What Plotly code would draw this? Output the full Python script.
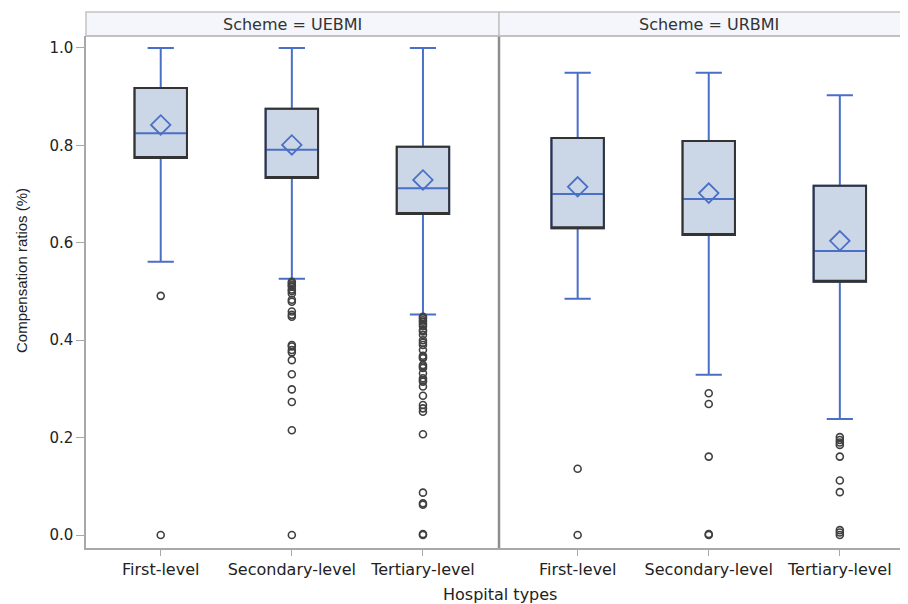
import plotly.graph_objects as go
from plotly.subplots import make_subplots

categories = ["First-level", "Secondary-level", "Tertiary-level"]
schemes = ["UEBMI", "URBMI"]

# box statistics per scheme: [First, Secondary, Tertiary]
uebmi_lower = [0.561, 0.526, 0.453]
uebmi_q1 = [0.774, 0.733, 0.659]
uebmi_median = [0.825, 0.791, 0.712]
uebmi_q3 = [0.918, 0.875, 0.797]
uebmi_upper = [1.0, 1.0, 1.0]
uebmi_mean = [0.842, 0.801, 0.729]

urbmi_lower = [0.485, 0.329, 0.238]
urbmi_q1 = [0.630, 0.616, 0.520]
urbmi_median = [0.700, 0.690, 0.583]
urbmi_q3 = [0.815, 0.809, 0.717]
urbmi_upper = [0.949, 0.949, 0.903]
urbmi_mean = [0.715, 0.702, 0.604]

uebmi_outliers_first = [0.491, 0.0]
uebmi_outliers_secondary = [0.520, 0.517, 0.513, 0.510, 0.504, 0.501, 0.496, 0.483, 0.479,
                            0.459, 0.452, 0.448, 0.390, 0.387, 0.380, 0.375, 0.359, 0.330,
                            0.299, 0.273, 0.215, 0.0]
uebmi_outliers_tertiary = [0.448, 0.445, 0.441, 0.438, 0.433, 0.429, 0.421, 0.418, 0.411,
                           0.400, 0.395, 0.390, 0.380, 0.368, 0.365, 0.363, 0.349, 0.346,
                           0.343, 0.332, 0.322, 0.318, 0.315, 0.305, 0.286, 0.267, 0.260,
                           0.253, 0.207, 0.087, 0.065, 0.062, 0.002, 0.0]
urbmi_outliers_first = [0.136, 0.0]
urbmi_outliers_secondary = [0.291, 0.269, 0.161, 0.002, 0.0]
urbmi_outliers_tertiary = [0.201, 0.195, 0.190, 0.185, 0.161, 0.112, 0.088, 0.010, 0.005, 0.0]

y_ticks = [0.0, 0.2, 0.4, 0.6, 0.8, 1.0]

stats = {
    "UEBMI": dict(lower=uebmi_lower, q1=uebmi_q1, median=uebmi_median, q3=uebmi_q3,
                  upper=uebmi_upper, mean=uebmi_mean,
                  outliers=[uebmi_outliers_first, uebmi_outliers_secondary, uebmi_outliers_tertiary]),
    "URBMI": dict(lower=urbmi_lower, q1=urbmi_q1, median=urbmi_median, q3=urbmi_q3,
                  upper=urbmi_upper, mean=urbmi_mean,
                  outliers=[urbmi_outliers_first, urbmi_outliers_secondary, urbmi_outliers_tertiary]),
}

BLUE = "#4A6FC6"
FILL = "#CBD6E6"
DARK = "#333333"
AXIS = "#A8A8A8"
FONT = "DejaVu Sans"

fig = make_subplots(rows=1, cols=2, shared_yaxes=True, horizontal_spacing=0)

for c, scheme in enumerate(schemes, start=1):
    s = stats[scheme]
    for i, cat in enumerate(categories):
        # whiskers, fill and median in blue
        fig.add_trace(go.Box(
            x=[i], q1=[s["q1"][i]], median=[s["median"][i]], q3=[s["q3"][i]],
            lowerfence=[s["lower"][i]], upperfence=[s["upper"][i]],
            width=0.4, whiskerwidth=0.5, fillcolor=FILL,
            line=dict(color=BLUE, width=2), boxpoints=False, showlegend=False,
            hoverinfo="skip"), row=1, col=c)
        # dark box outline
        fig.add_trace(go.Box(
            x=[i], q1=[s["q1"][i]], median=[s["q1"][i]], q3=[s["q3"][i]],
            lowerfence=[s["q1"][i]], upperfence=[s["q3"][i]],
            width=0.4, whiskerwidth=0.0, fillcolor="rgba(0,0,0,0)",
            line=dict(color=DARK, width=2), boxpoints=False, showlegend=False,
            hoverinfo="skip"), row=1, col=c)
        # outliers
        outs = s["outliers"][i]
        fig.add_trace(go.Scatter(
            x=[i] * len(outs), y=outs, mode="markers",
            marker=dict(symbol="circle-open", size=7, color="#404040", line=dict(width=1.6)),
            showlegend=False, hoverinfo="skip"), row=1, col=c)
    # means
    fig.add_trace(go.Scatter(
        x=list(range(len(categories))), y=s["mean"], mode="markers",
        marker=dict(symbol="diamond-open", size=15, color=BLUE, line=dict(width=1.8)),
        showlegend=False, hoverinfo="skip"), row=1, col=c)

# page has an 8px body margin, so the figure is sized to fill the 908x604 window
W, H = 900, 596
ml, mr, mt, mb = 78, 0, 28, 56
pw = W - ml - mr
ph = H - mt - mb
split = (491 - ml) / pw

fig.update_xaxes(tickmode="array", tickvals=[0, 1, 2], ticktext=categories, automargin=False,
                 showgrid=False, zeroline=False, showline=True, linecolor=AXIS, linewidth=1.5,
                 ticks="outside", ticklen=6, tickcolor=AXIS,
                 tickfont=dict(family=FONT, size=16, color="#222222"))
fig.update_xaxes(range=[-0.57, 2.58], domain=[0, split], row=1, col=1)
fig.update_xaxes(range=[-0.6, 2.52], domain=[split, 1.0], row=1, col=2)

fig.update_yaxes(range=[-0.0267, 1.0246], tickvals=y_ticks, tickformat=".1f", automargin=False,
                 showgrid=False, zeroline=False)
fig.update_yaxes(showline=True, linecolor=AXIS, linewidth=1.5, ticks="outside", ticklen=8,
                 tickcolor=AXIS, tickfont=dict(family=FONT, size=15, color="#222222"),
                 row=1, col=1)
fig.update_yaxes(showline=False, ticks="", row=1, col=2)

strip_top = 1 + 24 / ph
shapes = []
for x0, x1, scheme in [(0, split, "UEBMI"), (split, 1.02, "URBMI")]:
    shapes.append(dict(type="rect", xref="paper", yref="paper", x0=x0, x1=x1, y0=1.0, y1=strip_top,
                       fillcolor="#F4F6FB", line=dict(color="#C4C4C4", width=1.5), layer="below"))
shapes.append(dict(type="line", xref="paper", yref="paper", x0=split, x1=split, y0=0, y1=1,
                   line=dict(color="#8E8E8E", width=2.5)))
shapes.append(dict(type="line", xref="paper", yref="paper", x0=0, x1=1, y0=1, y1=1,
                   line=dict(color="#BDBDBD", width=1.5)))

annotations = [
    dict(text="Scheme = UEBMI", xref="paper", yref="paper", x=split / 2, y=(1 + strip_top) / 2,
         xanchor="center", yanchor="middle", showarrow=False,
         font=dict(family=FONT, size=16, color="#333333")),
    dict(text="Scheme = URBMI", xref="paper", yref="paper", x=(709 - 8 - ml) / pw, y=(1 + strip_top) / 2,
         xanchor="center", yanchor="middle", showarrow=False,
         font=dict(family=FONT, size=16, color="#333333")),
    dict(text="Hospital types", xref="paper", yref="paper", x=(500 - 8 - ml) / pw, y=-(594 - 8 - (H - mb)) / ph,
         xanchor="center", yanchor="middle", showarrow=False,
         font=dict(family=FONT, size=16, color="#222222")),
    dict(text="Compensation ratios (%)", xref="paper", yref="paper", textangle=-90,
         x=(21 - 8 - ml) / pw, y=1 - (271 - 8 - mt) / ph,
         xanchor="center", yanchor="middle", showarrow=False,
         font=dict(family="Liberation Sans", size=15, color="#222222")),
]

fig.update_layout(width=W, height=H, margin=dict(l=ml, r=mr, t=mt, b=mb),
                  plot_bgcolor="white", paper_bgcolor="white",
                  boxmode="overlay", shapes=shapes, annotations=annotations,
                  font=dict(family=FONT))

fig.write_html("out.html")
